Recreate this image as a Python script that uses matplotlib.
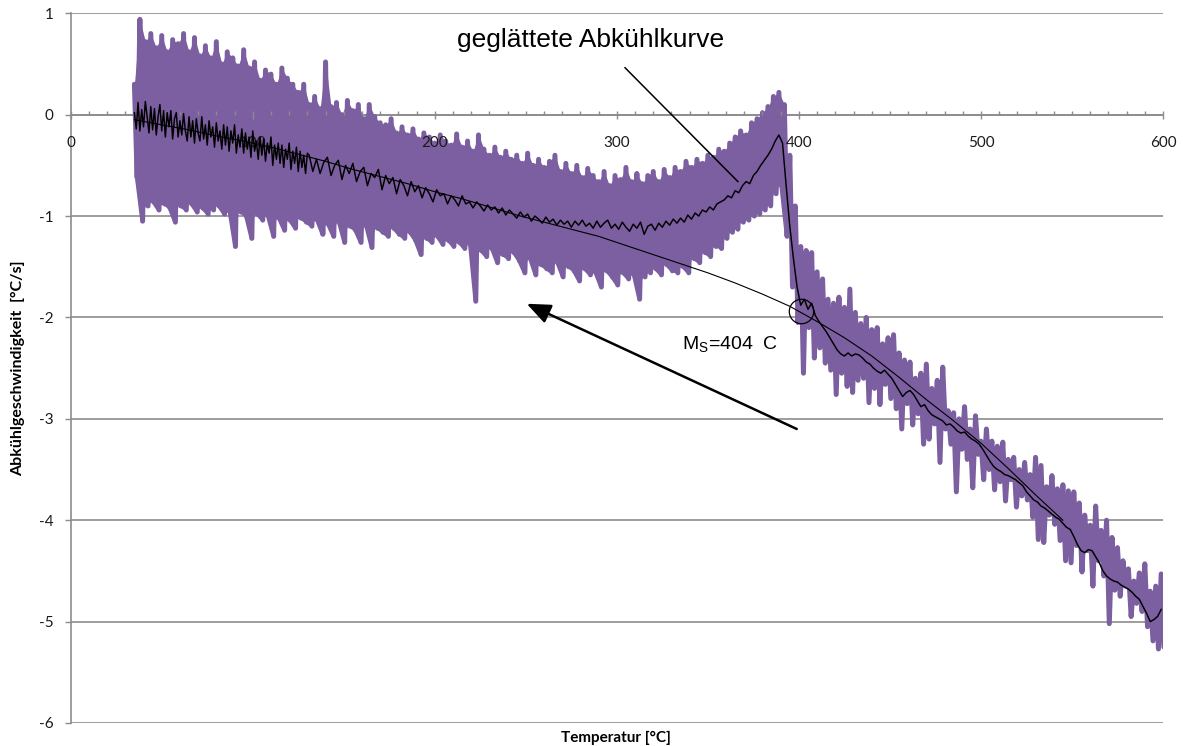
import numpy as np
import matplotlib
matplotlib.use("Agg")
import matplotlib.pyplot as plt
from matplotlib.ticker import MultipleLocator

plt.rcParams['font.family'] = ['Lato', 'DejaVu Sans']
plt.rcParams['mathtext.fontset'] = 'custom'
plt.rcParams['mathtext.rm'] = 'Liberation Sans'
plt.rcParams['axes.unicode_minus'] = False

# Measured cooling rate: upper / lower swings of the raw signal,
# sampled every 3 degC (lower swing taken half a step later)
env_temp = np.arange(35, 600, 3)
rate_hi = [
    0.30, 0.94, 0.72, 0.80, 0.66, 0.78, 0.62, 0.74, 0.70, 0.80,
    0.62, 0.76, 0.58, 0.68, 0.56, 0.72, 0.50, 0.62, 0.56, 0.48,
    0.64, 0.46, 0.52, 0.34, 0.44, 0.40, 0.30, 0.46, 0.36, 0.30,
    0.22, 0.30, 0.10, 0.18, 0.06, 0.52, 0.08, 0.12, 0.00, 0.14,
    0.04, 0.10, -0.04, 0.10, -0.02, -0.08, -0.10, -0.04, -0.18, -0.12,
    -0.20, -0.14, -0.24, -0.18, -0.22, -0.28, -0.20, -0.26, -0.30, -0.19,
    -0.32, -0.26, -0.36, -0.20, -0.34, -0.40, -0.32, -0.42, -0.36, -0.44,
    -0.40, -0.48, -0.38, -0.50, -0.44, -0.52, -0.46, -0.40, -0.56, -0.48,
    -0.58, -0.50, -0.62, -0.53, -0.60, -0.66, -0.56, -0.70, -0.60, -0.64,
    -0.52, -0.66, -0.58, -0.68, -0.60, -0.56, -0.66, -0.54, -0.62, -0.52,
    -0.56, -0.46, -0.52, -0.44, -0.48, -0.40, -0.42, -0.34, -0.36, -0.28,
    -0.22, -0.16, -0.20, -0.08, -0.04, 0.02, 0.08, 0.18, 0.22,
    0.10, -0.40, -0.90, -1.30, -1.34, -1.36, -1.55, -1.62, -1.82, -1.86,
    -1.80, -1.90, -1.72, -1.95, -2.06, -2.00, -2.12, -2.10, -2.26, -2.20,
    -2.17, -2.35, -2.42, -2.44, -2.60, -2.55, -2.46, -2.70, -2.62, -2.49,
    -2.92, -2.94, -3.00, -2.88, -3.10, -2.97, -3.22, -3.10, -3.22, -3.27,
    -3.23, -3.40, -3.38, -3.50, -3.43, -3.55, -3.38, -3.46, -3.67, -3.56,
    -3.69, -3.65, -3.71, -3.72, -3.83, -3.95, -4.05, -3.86, -4.10, -4.00,
    -4.17, -4.27, -4.40, -4.48, -4.60, -4.52, -4.43, -4.70, -4.65, -4.53,
]
rate_lo = [
    -0.62, -1.05, -0.90, -0.86, -0.94, -0.88, -0.92, -1.06, -0.90, -0.94,
    -0.88, -0.96, -0.92, -0.98, -0.94, -0.90, -0.98, -0.96, -1.30, -0.96,
    -1.00, -1.22, -0.98, -1.04, -1.00, -1.20, -1.02, -1.14, -1.04, -1.12,
    -1.02, -1.06, -1.10, -1.04, -1.18, -1.08, -1.20, -1.06, -1.26, -1.10,
    -1.14, -1.26, -1.10, -1.31, -1.12, -1.16, -1.20, -1.12, -1.18, -1.22,
    -1.16, -1.24, -1.38, -1.22, -1.26, -1.20, -1.28, -1.24, -1.30, -1.26,
    -1.32, -1.28, -1.84, -1.34, -1.40, -1.32, -1.46, -1.38, -1.42, -1.36,
    -1.44, -1.56, -1.42, -1.58, -1.48, -1.52, -1.56, -1.46, -1.60, -1.50,
    -1.54, -1.64, -1.52, -1.58, -1.56, -1.70, -1.54, -1.60, -1.68, -1.56,
    -1.62, -1.58, -1.82, -1.60, -1.56, -1.52, -1.58, -1.48, -1.54, -1.56,
    -1.50, -1.56, -1.42, -1.46, -1.36, -1.40, -1.30, -1.32, -1.22, -1.16,
    -1.13, -1.06, -1.04, -1.00, -0.98, -0.94, -0.90, -0.78, -0.70,
    -1.20, -1.70, -2.05, -2.55, -2.10, -2.40, -2.30, -2.45, -2.52, -2.76,
    -2.55, -2.68, -2.74, -2.62, -2.60, -2.84, -2.70, -2.86, -2.66, -2.80,
    -2.90, -3.10, -2.85, -3.06, -2.95, -3.25, -3.20, -3.05, -3.43, -3.10,
    -3.25, -3.72, -3.30, -3.40, -3.68, -3.35, -3.60, -3.50, -3.70, -3.62,
    -3.81, -3.60, -3.87, -3.76, -3.80, -3.97, -4.19, -4.22, -3.95, -4.04,
    -4.20, -4.40, -4.42, -4.25, -4.51, -4.30, -4.65, -4.40, -4.55, -5.02,
    -4.69, -4.75, -4.65, -4.95, -4.82, -4.90, -5.05, -5.19, -5.27, -5.25,
]

# Smoothed cooling curve: every 1 degC up to 130 degC, then every 2 degC
smooth_temp = np.concatenate([np.arange(35, 131, 1), np.arange(131, 600, 2)])
rate_smooth = [
    # 35 .. 130 degC
    0.02, -0.14, 0.12, -0.16, 0.05, -0.12, 0.13, -0.02, -0.18, 0.08,
    -0.15, 0.06, -0.20, -0.02, 0.10, -0.16, 0.04, -0.22, 0.02, -0.12,
    0.04, -0.24, -0.04, 0.02, -0.22, -0.06, -0.20, 0.01, -0.16, -0.26,
    -0.02, -0.22, -0.06, -0.28, -0.04, -0.18, -0.26, -0.02, -0.24, -0.10,
    -0.30, -0.06, -0.22, -0.12, -0.32, -0.08, -0.26, -0.16, -0.34, -0.10,
    -0.30, -0.12, -0.36, -0.16, -0.28, -0.10, -0.38, -0.20, -0.32, -0.14,
    -0.38, -0.18, -0.34, -0.22, -0.42, -0.16, -0.36, -0.26, -0.44, -0.22,
    -0.40, -0.24, -0.46, -0.28, -0.38, -0.22, -0.50, -0.30, -0.44, -0.28,
    -0.48, -0.30, -0.52, -0.34, -0.44, -0.28, -0.54, -0.36, -0.48, -0.32,
    -0.56, -0.36, -0.52, -0.40, -0.58, -0.38,
    # 131 .. 219 degC
    -0.40, -0.56, -0.44, -0.58, -0.47, -0.42, -0.60, -0.50, -0.45, -0.64,
    -0.50, -0.58, -0.48, -0.66, -0.56, -0.52, -0.70, -0.58, -0.62, -0.54,
    -0.74, -0.60, -0.68, -0.62, -0.78, -0.64, -0.70, -0.80, -0.66, -0.76,
    -0.70, -0.82, -0.72, -0.78, -0.86, -0.74, -0.80, -0.78, -0.88, -0.80,
    -0.84, -0.90, -0.80, -0.88, -0.86,
    # 221 .. 393 degC
    -0.92, -0.86, -0.90, -0.95, -0.89, -0.94, -0.91, -0.97, -0.92, -0.99,
    -0.94, -0.98, -1.02, -0.96, -1.01, -0.98, -1.05, -1.00, -1.03, -1.07,
    -1.01, -1.06, -1.03, -1.09, -1.04, -1.08, -1.05, -1.11, -1.05, -1.09,
    -1.04, -1.10, -1.07, -1.12, -1.05, -1.11, -1.07, -1.04, -1.12, -1.08,
    -1.13, -1.06, -1.11, -1.15, -1.08, -1.12, -1.06, -1.18, -1.10, -1.08,
    -1.14, -1.07, -1.11, -1.05, -1.09, -1.03, -1.07, -1.02, -1.06, -0.99,
    -1.03, -0.97, -1.00, -0.94, -0.96, -0.91, -0.94, -0.88, -0.86, -0.84,
    -0.80, -0.82, -0.75, -0.77, -0.70, -0.66, -0.68, -0.60, -0.56, -0.50,
    -0.45, -0.40, -0.34, -0.26, -0.20, -0.28, -0.70,
    # 395 .. 599 degC
    -1.10, -1.42, -1.70, -1.88, -1.82, -1.92, -1.86, -1.98, -2.04, -2.09,
    -2.14, -2.20, -2.26, -2.32, -2.36, -2.38, -2.35, -2.38, -2.36, -2.37,
    -2.40, -2.44, -2.46, -2.50, -2.53, -2.55, -2.52, -2.56, -2.60, -2.66,
    -2.72, -2.78, -2.74, -2.72, -2.76, -2.82, -2.88, -2.86, -2.92, -2.96,
    -2.98, -3.00, -3.02, -3.06, -3.05, -3.08, -3.12, -3.14, -3.13, -3.17,
    -3.20, -3.22, -3.25, -3.30, -3.36, -3.42, -3.47, -3.50, -3.52, -3.55,
    -3.56, -3.58, -3.60, -3.63, -3.66, -3.72, -3.76, -3.80, -3.82, -3.86,
    -3.88, -3.91, -3.94, -3.97, -3.99, -4.03, -4.07, -4.09, -4.16, -4.24,
    -4.30, -4.32, -4.29, -4.30, -4.36, -4.42, -4.50, -4.55, -4.58, -4.60,
    -4.61, -4.64, -4.66, -4.68, -4.71, -4.75, -4.78, -4.85, -4.92, -5.00,
    -4.98, -4.95, -4.88,
]

# Extrapolated austenite cooling curve, every 15 degC
fit_temp = np.arange(35, 546, 15)
rate_fit = [
    -0.05, -0.10, -0.15, -0.21, -0.26, -0.32, -0.39, -0.46, -0.54, -0.61,
    -0.68, -0.76, -0.83, -0.91, -0.99, -1.06, -1.13, -1.20, -1.29, -1.38,
    -1.47, -1.56, -1.66, -1.77, -1.89, -2.04, -2.20, -2.38, -2.59, -2.81,
    -3.02, -3.24, -3.49, -3.75, -4.00,
]

# Martensite start point
ms_temp = 401.4
ms_rate = -1.94

x_ticks = [0, 100, 200, 300, 400, 500, 600]
y_ticks = [-6, -5, -4, -3, -2, -1, 0, 1]

W, H = 1183, 746
fig = plt.figure(figsize=(W / 100, H / 100), dpi=100)
ax = fig.add_axes([70.7 / W, 1 - 723 / H, (1163 - 70.7) / W, (723 - 13.3) / H])

purple = '#7b5fa0'
raw_temp = np.column_stack([env_temp, env_temp + 1.5]).ravel()
raw_rate = np.column_stack([rate_hi, rate_lo]).ravel()

# dense raw signal: solid core below the transformation, swings everywhere
core = env_temp <= 392
ax.fill_between(env_temp, rate_hi, rate_lo, where=core, color=purple,
                lw=0, zorder=3)
ax.plot(raw_temp, raw_rate, color=purple, lw=3.6,
        solid_joinstyle='round', solid_capstyle='round', zorder=3)
ax.plot(fit_temp, rate_fit, color='black', lw=0.8, zorder=4)
ax.plot(smooth_temp, rate_smooth, color='black', lw=1.05, zorder=5)
ax.plot([ms_temp], [ms_rate], marker='o', ms=17.6, mfc='none',
        mec='black', mew=0.9, zorder=6)

# Annotations
ax.text(285.3, 0.74, 'geglättete Abkühlkurve', family='Liberation Sans',
        fontsize=19, ha='center', va='center', zorder=7)
ax.plot([304.5, 366.5], [0.463, -0.66], color='black', lw=1.1, zorder=7)
ax.annotate('', xy=(250.5, -1.865), xytext=(398.8, -3.10),
            arrowprops=dict(arrowstyle='-|>,head_length=0.72,head_width=0.3',
                            color='black', lw=1.8, mutation_scale=20,
                            shrinkA=0, shrinkB=0), zorder=7)
ax.text(335.6, -2.315, r'M$_\mathregular{S}$=404  C', family='Liberation Sans',
        fontsize=14, ha='left', va='baseline', zorder=7)

# Axes styling
grey = '#8c8c8c'
ax.set_xlim(0, 600)
ax.set_ylim(-6, 1)
ax.set_xticks(x_ticks)
ax.set_yticks(y_ticks)
ax.xaxis.set_minor_locator(MultipleLocator(10))
ax.spines['bottom'].set_position(('data', 0))
for side in ('top', 'right'):
    ax.spines[side].set_visible(False)
for side in ('bottom', 'left'):
    ax.spines[side].set_color(grey)
    ax.spines[side].set_linewidth(1.2)
ax.yaxis.grid(True, color=grey, lw=1.2)
ax.tick_params(axis='x', which='major', direction='inout', length=6, width=1,
               color=grey, pad=12, labelsize=11, labelcolor='#1a1a1a')
ax.tick_params(axis='x', which='minor', direction='in', length=3, width=1,
               color=grey)
ax.tick_params(axis='y', which='major', direction='out', length=4.3, width=1,
               color=grey, pad=8, labelsize=11, labelcolor='#1a1a1a')
# temperature labels sit on top of the raw signal, under the smoothed curve
ax.xaxis.set_zorder(4.5)

fig.text(18 / W, 1 - 368 / H, 'Abkühlgeschwindigkeit  [°C/s]', rotation=90,
         ha='center', va='center', fontweight='bold', fontsize=11.5)
fig.text(616 / W, 1 - 738 / H, 'Temperatur [°C]', ha='center', va='center',
         fontweight='bold', fontsize=11)

fig.savefig('out.png', dpi=100)
